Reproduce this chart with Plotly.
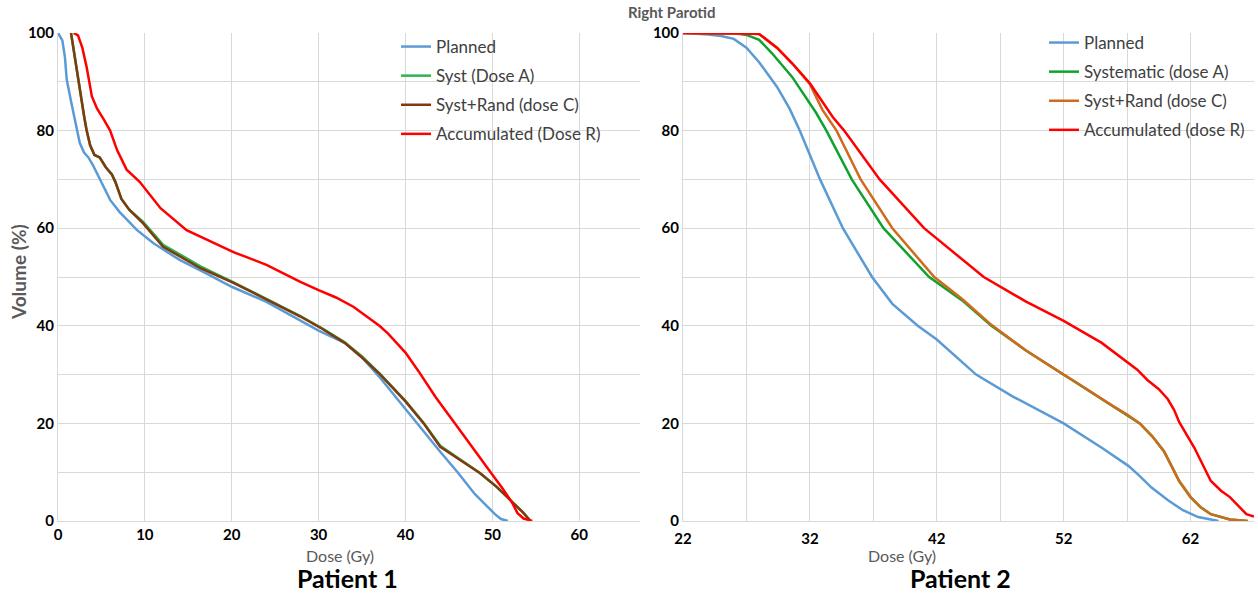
import plotly.graph_objects as go

# ---- Patient 1 : right parotid DVH ----
p1_planned_dose = [0, 0.5, 0.8, 1.0, 1.5, 2.0, 2.5, 3.0, 3.5, 4.0, 4.8, 6.0, 7.1, 9.1, 11, 14, 17, 20, 24,
                   27.7, 30, 33, 35, 37.1, 41.3, 44, 46, 48, 50.3, 51, 51.8]
p1_planned_vol = [100, 98.5, 95, 90.5, 86, 82, 77.5, 75.5, 74.5, 73, 70, 65.8, 63.3, 59.6, 56.9, 53.5, 50.8,
                  48, 44.9, 41.2, 39, 36.5, 33.5, 29.3, 20, 14.2, 10, 5.5, 1.4, 0.4, 0]

p1_systA_dose = [1.5, 2.0, 2.5, 3.0, 3.3, 3.7, 4.2, 4.8, 5.5, 6.2, 6.6, 7.3, 8.2, 9.8, 12.1, 16.4, 20.2, 23.3,
                 27.9, 30.5, 33, 35, 37.1, 40, 42.1, 44, 46.3, 48.6, 50.5, 52.4, 53.5, 54.4]
p1_systA_vol = [100, 94, 88, 83, 80, 77, 75, 74.5, 72.5, 71, 69.5, 66, 63.8, 61.3, 56.6, 52.2, 48.9, 46.1,
                42.0, 39.4, 36.6, 33.7, 30.1, 24.6, 20.1, 15.4, 12.6, 9.8, 7.0, 3.7, 1.8, 0]

p1_systrand_dose = [1.5, 2.0, 2.5, 3.0, 3.3, 3.7, 4.2, 4.8, 5.5, 6.2, 6.6, 7.3, 8.2, 9.8, 12.1, 16.4, 20.2,
                    23.3, 27.9, 30.5, 33, 35, 37.1, 40, 42.1, 44, 46.3, 48.6, 50.5, 52.4, 53.5, 54.4]
p1_systrand_vol = [100, 94, 88, 83, 80, 77, 75, 74.5, 72.5, 71, 69.5, 66, 63.8, 61, 56.2, 51.8, 48.8, 46,
                   41.9, 39.3, 36.5, 33.5, 30, 24.5, 20, 15.2, 12.5, 9.8, 7.0, 3.7, 1.8, 0]

p1_accum_dose = [1.8, 2.3, 2.8, 3.3, 3.9, 4.5, 5.3, 6.0, 6.8, 7.9, 9.4, 11.8, 14.8, 17.9, 20.2, 24, 27.9, 30,
                 32, 34, 35, 36, 37, 38, 39, 40, 41.5, 43.5, 45.7, 47.8, 49.8, 51.2, 52.3, 52.9, 53.6, 54.6]
p1_accum_vol = [100, 99.5, 97, 93, 87, 84.5, 82.2, 80, 76, 72, 69.5, 64.1, 59.6, 57, 55.1, 52.5, 49, 47.3,
                45.8, 43.9, 42.6, 41.3, 40, 38.4, 36.5, 34.5, 30.7, 25.3, 20, 15, 10, 6.6, 3.7, 1.6, 0.5, 0]

# ---- Patient 2 : right parotid DVH ----
p2_planned_dose = [22, 23, 24, 25, 26, 27, 28, 29.4, 30.4, 31.2, 32.8, 34.6, 36.9, 38.5, 40.5, 42, 45.1, 48,
                   52, 55, 56, 57.1, 58, 58.9, 60.2, 61.4, 62.6, 63.5, 64.2]
p2_planned_vol = [100, 99.9, 99.7, 99.4, 98.8, 97, 94, 89, 84.5, 80, 70, 60, 50, 44.5, 40, 37.2, 30, 25.5,
                  20, 15, 13.2, 11.3, 9.2, 6.9, 4.3, 2.2, 0.8, 0.3, 0]

p2_systA_dose = [22, 24, 26, 26.5, 27, 28, 29, 30.6, 32.5, 33.3, 35.3, 37.8, 41.4, 44, 46.3, 49, 52, 52.7,
                 55.8, 57, 58, 59, 59.9, 60.5, 61.1, 62, 62.8, 63.6, 65.1, 66.5]
p2_systA_vol = [100, 100, 99.9, 99.8, 99.6, 98.6, 95.9, 91, 83.6, 80, 70, 60, 50, 45.2, 40, 35, 30, 28.9,
                23.7, 21.8, 20, 17.3, 14.3, 11.3, 8.2, 4.9, 2.8, 1.4, 0.3, 0]

p2_systrand_dose = [22, 24, 26, 27, 28, 29.4, 30.6, 32, 33, 34.1, 36, 38.5, 41.8, 44, 46.3, 49, 52, 52.7,
                    55.8, 57, 58, 59, 59.9, 60.5, 61.1, 62, 62.8, 63.6, 65.1, 66.5]
p2_systrand_vol = [100, 100, 100, 99.9, 99.8, 97, 93.8, 89.5, 84.2, 80, 70, 60, 50, 45.5, 40.2, 35, 30,
                   28.9, 23.7, 21.8, 20, 17.3, 14.3, 11.3, 8.2, 4.9, 2.8, 1.4, 0.3, 0]

p2_accum_dose = [22, 24, 26, 27, 28, 29.4, 30.6, 32, 33.8, 34.7, 37.5, 41, 45.7, 49, 52, 55, 57.8, 58.6,
                 59.5, 60.2, 60.7, 61.1, 62.3, 63.6, 64.4, 65.1, 66.4, 67]
p2_accum_vol = [100, 100, 100, 99.9, 99.8, 97, 93.8, 89.7, 82.8, 80, 70, 60, 50, 45, 41, 36.5, 31, 28.9,
                27, 25, 22.8, 20.3, 15, 8.2, 6.2, 4.9, 1.4, 0.9]

vol_ticks = [0, 20, 40, 60, 80, 100]

FONT = "Lato"
GRID = "#d9d9d9"
W, H = 1258, 594

fig = go.Figure()


def px_x(p):
    return p / W


def px_y(p):
    return 1 - p / H


p1_series = [
    ("Planned", p1_planned_dose, p1_planned_vol, "#5b9bd5"),
    ("Syst (Dose A)", p1_systA_dose, p1_systA_vol, "#2eb34e"),
    ("Syst+Rand (dose C)", p1_systrand_dose, p1_systrand_vol, "#7f3a0e"),
    ("Accumulated (Dose R)", p1_accum_dose, p1_accum_vol, "#ff0000"),
]
p2_series = [
    ("Planned", p2_planned_dose, p2_planned_vol, "#5b9bd5"),
    ("Systematic (dose A)", p2_systA_dose, p2_systA_vol, "#10a22e"),
    ("Syst+Rand (dose C)", p2_systrand_dose, p2_systrand_vol, "#d06a1c"),
    ("Accumulated (dose R)", p2_accum_dose, p2_accum_vol, "#ff0000"),
]

for i, (name, d, v, c) in enumerate(p1_series):
    fig.add_trace(go.Scatter(x=d, y=v, mode="lines", name=name, line=dict(color=c, width=2.5),
                             xaxis="x", yaxis="y", legend="legend", legendgroup=f"a{i}"))
for i, (name, d, v, c) in enumerate(p2_series):
    fig.add_trace(go.Scatter(x=d, y=v, mode="lines", name=name, line=dict(color=c, width=2.5),
                             xaxis="x2", yaxis="y2", legend="legend2", legendgroup=f"b{i}"))

tickfont = dict(family=FONT, size=15, color="#000000", weight="bold")
ydom = [px_y(521), px_y(33)]

common_y = dict(range=[0, 100], tickvals=vol_ticks, showgrid=True, gridcolor=GRID, gridwidth=1,
                minor=dict(dtick=10, tick0=0, showgrid=True, gridcolor=GRID, gridwidth=1),
                zeroline=False, showline=True, linecolor=GRID, linewidth=1, ticks="",
                tickfont=tickfont, fixedrange=True, domain=ydom, automargin=False)

legend_font = dict(family=FONT, size=17, color="#404040")

fig.update_layout(
    width=W, height=H,
    margin=dict(l=0, r=0, t=0, b=0),
    paper_bgcolor="white", plot_bgcolor="white",
    font=dict(family=FONT),
    xaxis=dict(domain=[px_x(58), px_x(640)], range=[0, 67], dtick=10, tick0=0, showgrid=True,
               gridcolor=GRID, zeroline=False, showline=True, linecolor=GRID, ticks="",
               tickfont=tickfont, anchor="y", automargin=False),
    yaxis=dict(anchor="x", **common_y),
    xaxis2=dict(domain=[px_x(683), px_x(1254)], range=[22, 67], dtick=10, tick0=22, showgrid=True,
                gridcolor=GRID, minor=dict(dtick=5, tick0=22, showgrid=True, gridcolor=GRID),
                zeroline=False, showline=True, linecolor=GRID, ticks="", tickfont=tickfont,
                anchor="y2", automargin=False, ticklabelstandoff=4),
    yaxis2=dict(anchor="x2", **common_y),
    legend=dict(x=px_x(396), y=px_y(29), xanchor="left", yanchor="top", bgcolor="rgba(0,0,0,0)",
                font=legend_font, tracegroupgap=4, itemwidth=30),
    legend2=dict(x=px_x(1044), y=px_y(25), xanchor="left", yanchor="top", bgcolor="rgba(0,0,0,0)",
                 font=legend_font, tracegroupgap=4, itemwidth=30),
    showlegend=True,
)

annotations = [
    dict(text="Right Parotid", x=px_x(672), y=px_y(12), font=dict(size=15, color="#595959", weight="bold")),
    dict(text="Volume (%)", x=px_x(18), y=px_y(272), textangle=-90,
         font=dict(size=19, color="#595959", weight="bold")),
    dict(text="Dose (Gy)", x=px_x(340), y=px_y(555), font=dict(size=16, color="#595959")),
    dict(text="Dose (Gy)", x=px_x(902), y=px_y(555), font=dict(size=16, color="#595959")),
    dict(text="Patient 1", x=px_x(348), y=px_y(578), font=dict(size=25, color="#000000", weight="bold")),
    dict(text="Patient 2", x=px_x(960), y=px_y(578), font=dict(size=25, color="#000000", weight="bold")),
]
for a in annotations:
    a.update(xref="paper", yref="paper", showarrow=False, xanchor="center", yanchor="middle")
    a["font"]["family"] = FONT
fig.update_layout(annotations=annotations)

fig.write_html("out.html")
